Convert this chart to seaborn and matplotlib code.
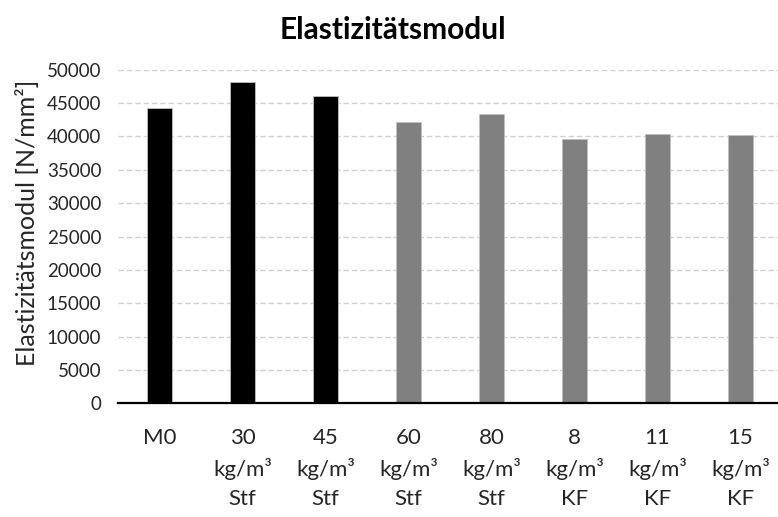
import matplotlib
matplotlib.use("Agg")
import matplotlib.pyplot as plt
import seaborn as sns
import pandas as pd

categories = ["M0", "30\nkg/m³\nStf", "45\nkg/m³\nStf", "60\nkg/m³\nStf", "80\nkg/m³\nStf",
              "8\nkg/m³\nKF", "11\nkg/m³\nKF", "15\nkg/m³\nKF"]
values = [44300, 48100, 46100, 42120, 43410, 39620, 40320, 40170]
groups = ["a", "a", "a", "b", "b", "b", "b", "b"]
yticks = [0, 5000, 10000, 15000, 20000, 25000, 30000, 35000, 40000, 45000, 50000]

sns.set_theme(style="white")
plt.rcParams["font.family"] = ["Lato", "DejaVu Sans"]

df = pd.DataFrame({"cat": categories, "val": values, "grp": groups})

fig = plt.figure(figsize=(7.78, 5.17), dpi=100)
ax = fig.add_axes([118/778, (517-403.3)/517, 664/778, 333.6/517])

sns.barplot(data=df, x="cat", y="val", hue="grp", palette={"a": "#000000", "b": "#808080"},
            dodge=False, legend=False, width=0.31, ax=ax, edgecolor="#BFBFBF", linewidth=0.6)

ax.set_ylim(0, 50000)
ax.set_xlim(-0.5, len(categories) - 0.5)
ax.set_yticks(yticks)
ax.set_yticklabels([str(t) for t in yticks], fontsize=13.5, color="#262626")
ax.tick_params(axis="x", labelsize=16, colors="#262626", pad=18, length=0)
ax.tick_params(axis="y", length=0, pad=12)
for lbl in ax.get_xticklabels():
    lbl.set_linespacing(1.55)
ax.yaxis.grid(True, color="#D0D0D0", linestyle=(0, (4, 2)), linewidth=1)
ax.set_axisbelow(True)
for s in ["left", "right", "top"]:
    ax.spines[s].set_visible(False)
ax.spines["bottom"].set_color("#000000")
ax.spines["bottom"].set_linewidth(1.6)
ax.set_xlabel("")
ax.set_ylabel("Elastizitätsmodul [N/mm²]", fontsize=18, color="#262626")
ax.yaxis.set_label_coords(-(118 - 39) / 664, (403.3 - 223) / 333.6)
fig.text(393/778, 1 - 30/517, "Elastizitätsmodul", ha="center", va="center",
         fontsize=21.5, fontweight="bold", color="#000000")

fig.savefig("out.png", dpi=100)
